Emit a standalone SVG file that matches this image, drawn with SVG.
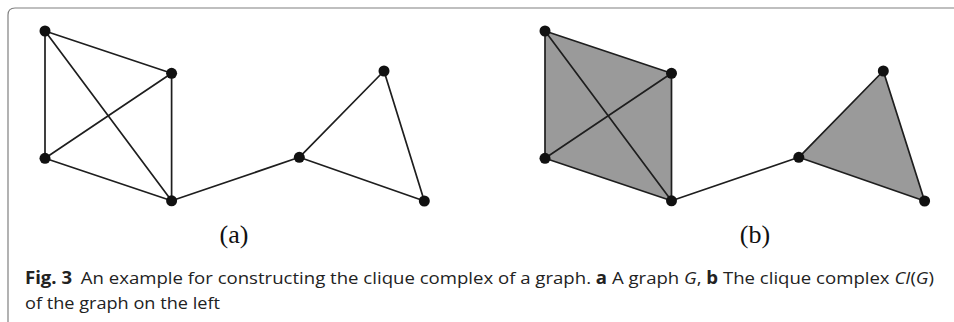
<svg xmlns="http://www.w3.org/2000/svg" width="954" height="322" viewBox="0 0 954 322">
<style>
.frame{fill:none;stroke:#808080;stroke-width:1.2}
.edge{stroke:#1e1e1e;stroke-width:1.7;fill:none;stroke-linecap:round}
.face{fill:#9a9a9a;stroke:none}
.node{fill:#111}
.sub{font-family:"Liberation Serif",serif;font-size:26px;fill:#111;text-anchor:middle}
.cap{font-family:"Open Sans","Noto Sans",sans-serif;font-size:17px;fill:#222}
</style>
<path class="frame" d="M954 8 H15 Q8 8 8 15 V322"/>
<g id="faces">
<polygon class="face" points="545,31 671.5,73.3 671.5,200.8 545,158.3"/>
<polygon class="face" points="798.8,157.3 883.3,71 924.6,201"/>
</g>
<g id="connectors">
<line class="edge" x1="45" y1="31" x2="171.6" y2="73.3"/>
<line class="edge" x1="45" y1="31" x2="45" y2="158.3"/>
<line class="edge" x1="45" y1="31" x2="171.6" y2="200.8"/>
<line class="edge" x1="171.6" y1="73.3" x2="45" y2="158.3"/>
<line class="edge" x1="171.6" y1="73.3" x2="171.6" y2="200.8"/>
<line class="edge" x1="45" y1="158.3" x2="171.6" y2="200.8"/>
<line class="edge" x1="171.6" y1="200.8" x2="299.3" y2="157.3"/>
<line class="edge" x1="299.3" y1="157.3" x2="384" y2="71"/>
<line class="edge" x1="299.3" y1="157.3" x2="424.3" y2="201"/>
<line class="edge" x1="384" y1="71" x2="424.3" y2="201"/>
<line class="edge" x1="545" y1="31" x2="671.5" y2="73.3"/>
<line class="edge" x1="545" y1="31" x2="545" y2="158.3"/>
<line class="edge" x1="545" y1="31" x2="671.5" y2="200.8"/>
<line class="edge" x1="671.5" y1="73.3" x2="545" y2="158.3"/>
<line class="edge" x1="671.5" y1="73.3" x2="671.5" y2="200.8"/>
<line class="edge" x1="545" y1="158.3" x2="671.5" y2="200.8"/>
<line class="edge" x1="671.5" y1="200.8" x2="798.8" y2="157.3"/>
<line class="edge" x1="798.8" y1="157.3" x2="883.3" y2="71"/>
<line class="edge" x1="798.8" y1="157.3" x2="924.6" y2="201"/>
<line class="edge" x1="883.3" y1="71" x2="924.6" y2="201"/>
</g>
<g id="n-a1"><circle class="node" cx="45" cy="31" r="5.5"/></g>
<g id="n-a2"><circle class="node" cx="171.6" cy="73.3" r="5.5"/></g>
<g id="n-a3"><circle class="node" cx="45" cy="158.3" r="5.5"/></g>
<g id="n-a4"><circle class="node" cx="171.6" cy="200.8" r="5.5"/></g>
<g id="n-a5"><circle class="node" cx="299.3" cy="157.3" r="5.5"/></g>
<g id="n-a6"><circle class="node" cx="384" cy="71" r="5.5"/></g>
<g id="n-a7"><circle class="node" cx="424.3" cy="201" r="5.5"/></g>
<g id="n-b1"><circle class="node" cx="545" cy="31" r="5.5"/></g>
<g id="n-b2"><circle class="node" cx="671.5" cy="73.3" r="5.5"/></g>
<g id="n-b3"><circle class="node" cx="545" cy="158.3" r="5.5"/></g>
<g id="n-b4"><circle class="node" cx="671.5" cy="200.8" r="5.5"/></g>
<g id="n-b5"><circle class="node" cx="798.8" cy="157.3" r="5.5"/></g>
<g id="n-b6"><circle class="node" cx="883.3" cy="71" r="5.5"/></g>
<g id="n-b7"><circle class="node" cx="924.6" cy="201" r="5.5"/></g>
<text class="sub" x="234" y="243">(a)</text>
<text class="sub" x="755" y="243">(b)</text>
<text class="cap" x="25" y="284" textLength="909" lengthAdjust="spacingAndGlyphs"><tspan font-weight="bold">Fig. 3</tspan><tspan dx="8">An example for constructing the clique complex of a graph. </tspan><tspan font-weight="bold">a</tspan> A graph <tspan font-style="italic">G</tspan>, <tspan font-weight="bold">b</tspan> The clique complex <tspan font-style="italic">CI</tspan>(<tspan font-style="italic">G</tspan>)</text>
<text class="cap" x="25" y="309" textLength="195" lengthAdjust="spacingAndGlyphs">of the graph on the left</text>
</svg>
